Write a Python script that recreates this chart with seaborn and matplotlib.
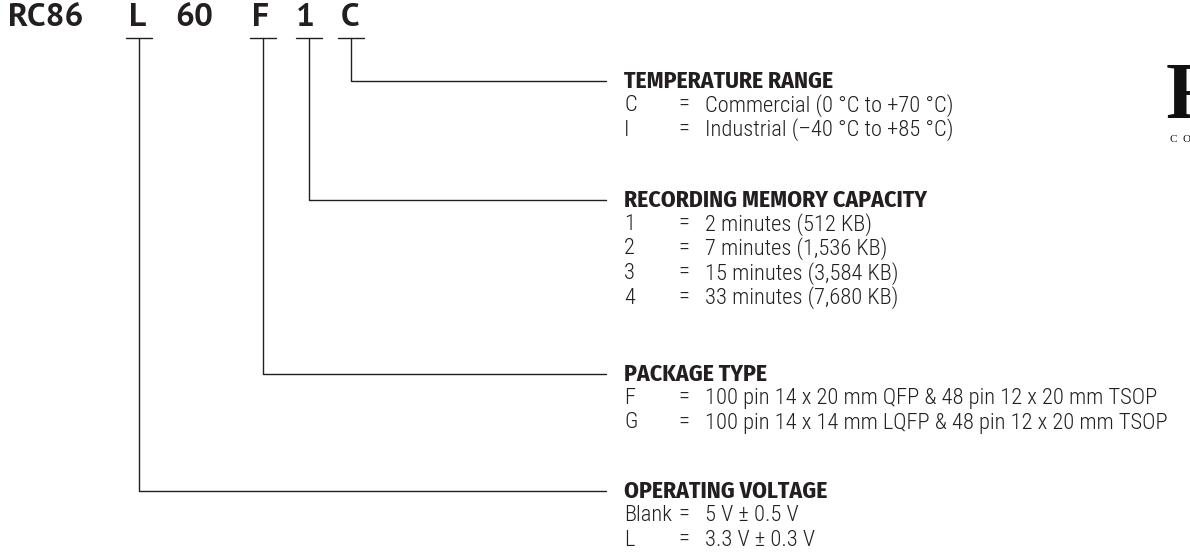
import matplotlib
matplotlib.use("Agg")
import matplotlib.pyplot as plt
import seaborn as sns

sns.set_theme(style="white")
plt.rcParams['font.family'] = ['Roboto Condensed', 'DejaVu Sans']

# ---- data ----
prefix = "RC86"
code_parts = ["L", "60", "F", "1", "C"]
linked_parts = ["C", "1", "F", "L"]
section_titles = ["TEMPERATURE RANGE", "RECORDING MEMORY CAPACITY",
                  "PACKAGE TYPE", "OPERATING VOLTAGE"]
temp_codes = ["C", "I"]
temp_desc = ["Commercial (0 \u00b0C to +70 \u00b0C)",
             "Industrial (\u201340 \u00b0C to +85 \u00b0C)"]
mem_codes = ["1", "2", "3", "4"]
mem_desc = ["2 minutes (512 KB)", "7 minutes (1,536 KB)",
            "15 minutes (3,584 KB)", "33 minutes (7,680 KB)"]
pkg_codes = ["F", "G"]
pkg_desc = ["100 pin 14 x 20 mm QFP & 48 pin 12 x 20 mm TSOP",
            "100 pin 14 x 14 mm LQFP & 48 pin 12 x 20 mm TSOP"]
volt_codes = ["Blank", "L"]
volt_desc = ["5 V \u00b1 0.5 V", "3.3 V \u00b1 0.3 V"]

sections = [(temp_codes, temp_desc), (mem_codes, mem_desc),
            (pkg_codes, pkg_desc), (volt_codes, volt_desc)]

# ---- layout ----
W, H = 1190, 556
fig = plt.figure(figsize=(W / 100, H / 100), dpi=100)
ax = fig.add_axes([0, 0, 1, 1])
ax.set_xlim(0, W)
ax.set_ylim(H, 0)
ax.axis("off")

dark = "#231f20"
code_font = dict(family="PT Sans", fontweight="bold", fontsize=24)
head_font = dict(family="Fira Sans Condensed", fontweight="bold", fontsize=17)
body_font = dict(family="Roboto Condensed", fontweight="light", fontsize=16.2)

code_x = {"L": 138, "60": 194, "F": 261, "1": 305, "C": 350}
vert_x = {"L": 139, "F": 263, "1": 309, "C": 351}
bar_half = 13
title_y = [81, 200, 374, 491]
text_x = 624
eq_x = 684
desc_x = 705
line_end = 606
row_off = 24.5
row_h = 24.5

ax.text(8, 18, prefix, color=dark, va="center", ha="left", **code_font)
for p in code_parts:
    ax.text(code_x[p], 18, p, color=dark, va="center", ha="center", **code_font)
    if p in linked_parts:
        sns.lineplot(x=[vert_x[p] - bar_half, vert_x[p] + bar_half], y=[38, 38],
                     ax=ax, color=dark, linewidth=1.0, sort=False)

for p, ty in zip(linked_parts, title_y):
    x0 = vert_x[p]
    sns.lineplot(x=[x0, x0, line_end], y=[38, ty, ty], ax=ax, color=dark,
                 linewidth=1.0, sort=False, estimator=None)

for (codes, descs), title, ty in zip(sections, section_titles, title_y):
    ax.text(text_x, ty, title, color=dark, va="center", ha="left", **head_font)
    for i, (c, d) in enumerate(zip(codes, descs)):
        yy = ty + row_off + row_h * i
        ax.text(text_x, yy, c, color=dark, va="center", ha="left", **body_font)
        ax.text(eq_x, yy, "=", color=dark, va="center", ha="center", **body_font)
        ax.text(desc_x, yy, d, color=dark, va="center", ha="left", **body_font)

# partial logo at right edge (cut by the figure border, as in the reference)
ax.text(1166, 98, "R", fontsize=58, fontweight="bold", family="Liberation Serif",
        color="#111111", va="center", ha="left")
ax.text(1170, 140, "C  O", fontsize=8, family="Liberation Serif",
        color="#111111", va="center", ha="left")

fig.savefig("out.png", dpi=100)
